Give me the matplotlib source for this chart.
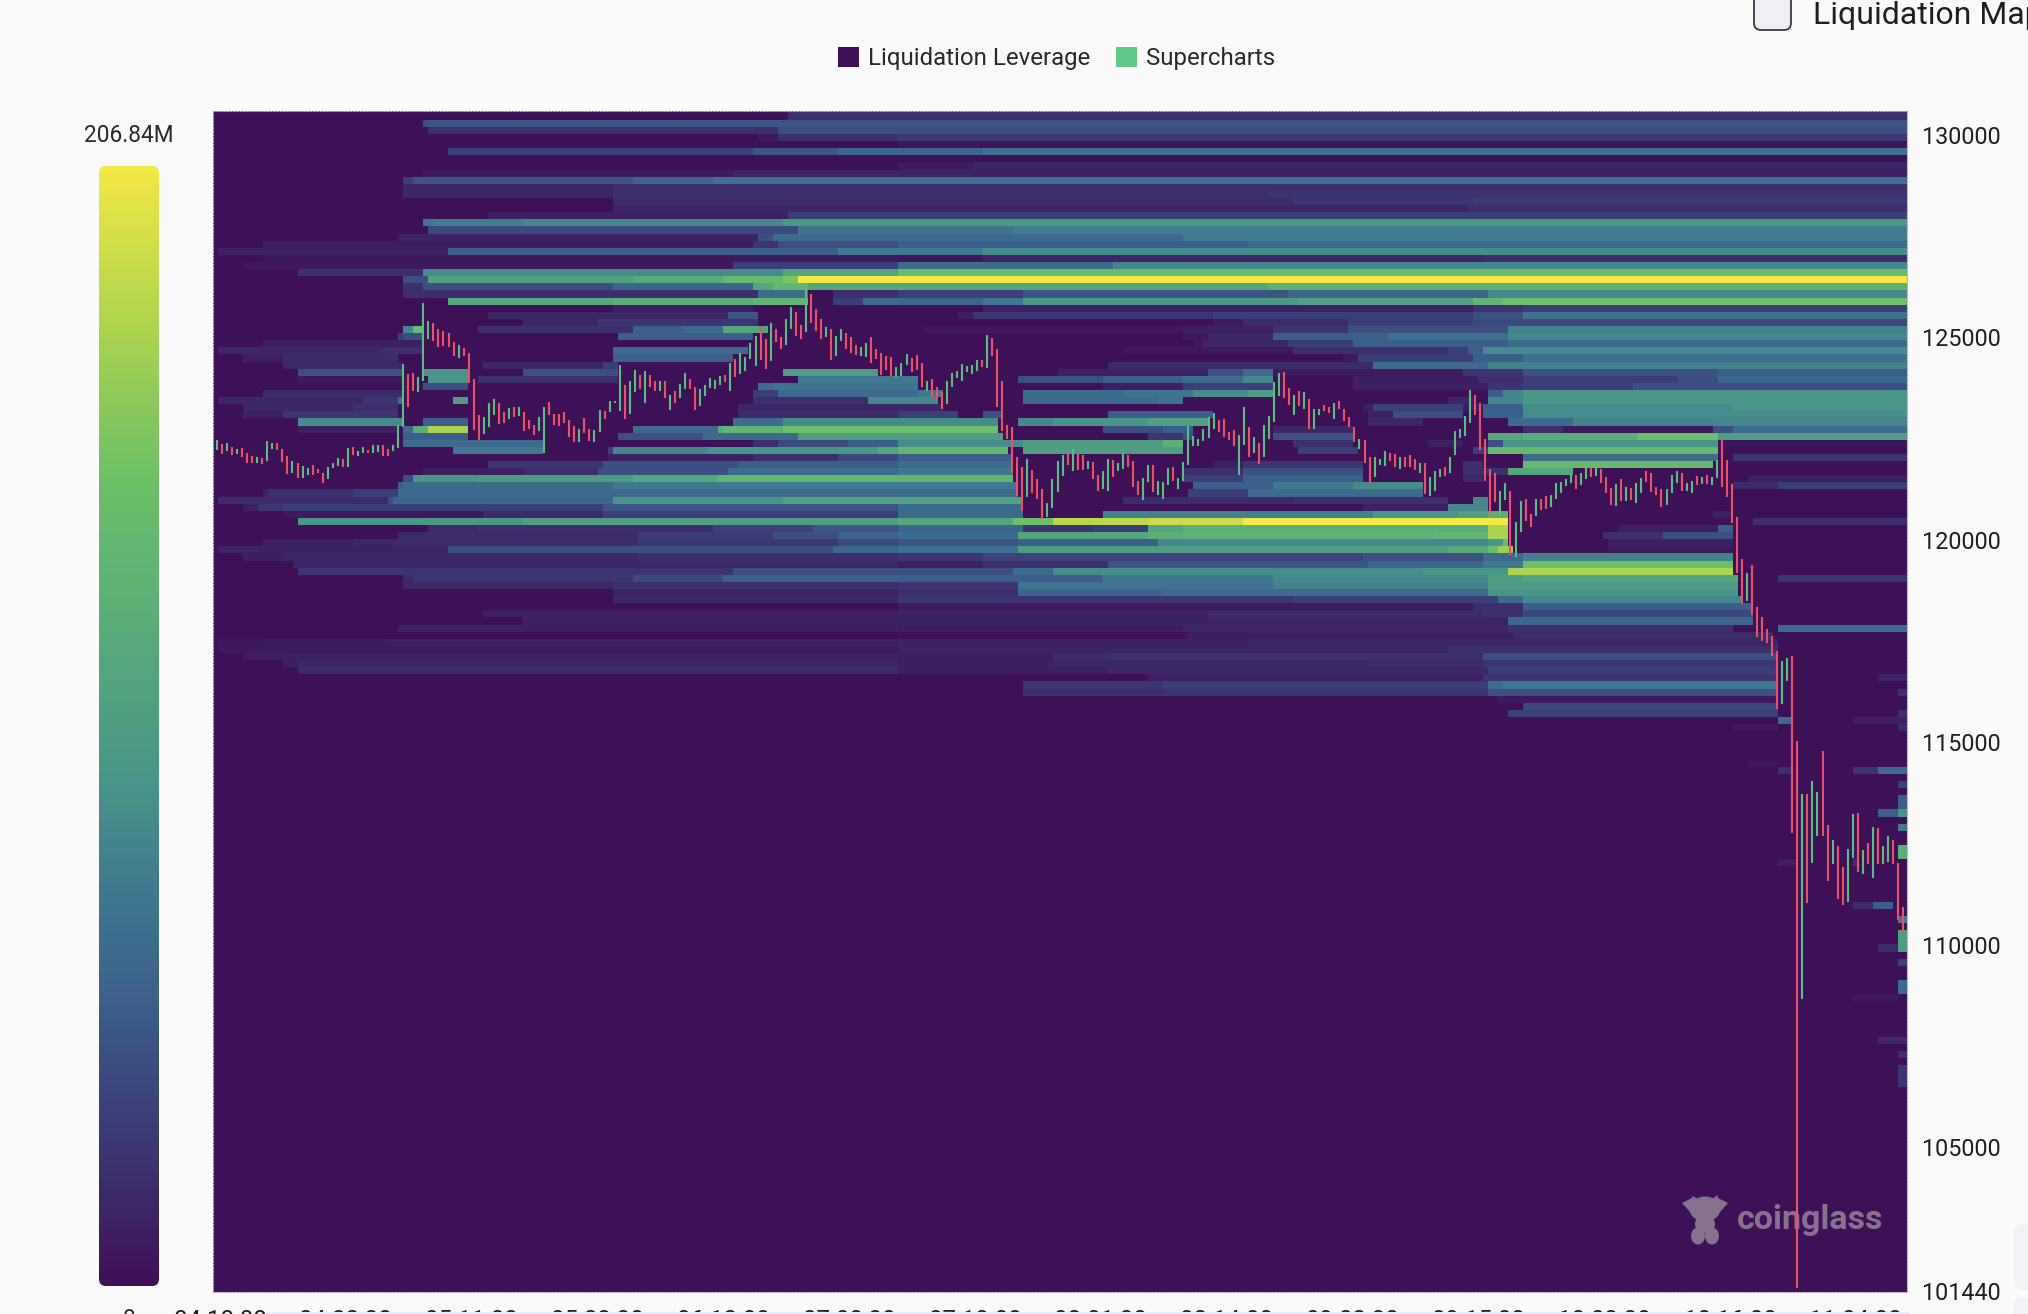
import numpy as np
import matplotlib
matplotlib.use("Agg")
import matplotlib.pyplot as plt
from matplotlib.colors import LinearSegmentedColormap
from matplotlib.patches import FancyBboxPatch, Ellipse, Polygon, Rectangle

plt.rcParams["font.family"] = ["Roboto", "DejaVu Sans"]

# axis
price_ticks = [130000, 125000, 120000, 115000, 110000, 105000, 101440]
time_labels = ["04 10:00", "04 22:30", "05 11:00", "05 23:30", "06 12:00", "07 00:30", "07 13:00",
               "08 01:30", "08 14:00", "09 02:30", "09 15:00", "10 03:30", "10 16:00", "11 04:30"]
scale_max = "206.84M"
scale_min = "0"
legend_names = ["Liquidation Leverage", "Supercharts"]

# liquidation bands, row number -> (first column, share of the scale maximum)
heat_upper = {
    0: [(115, .1)],
    1: [(41.6, .2), (43, .22)],
    2: [(43, .1), (113, .2)],
    3: [(109, .03), (113, .1), (137, .13)],
    4: [(137, .02)],
    5: [(47.4, .15), (108, .22), (125, .28), (154.4, .32)],
    7: [(137, .04), (152, .07)],
    8: [(41.6, .04), (104, .06)],
    9: [(37.6, .15), (40, .22), (84, .27), (100, .32)],
    10: [(38.5, .07), (80.4, .1)],
    11: [(38.5, .07), (80, .1), (211, .11)],
    12: [(79.5, .08), (216, .12), (252, .13)],
    13: [(80, .07), (251, .1)],
    14: [(55, .05), (115, .15)],
    15: [(41.6, .33), (44, .37), (62, .4), (114.4, .47)],
    16: [(43, .18), (117, .33), (160, .37)],
    17: [(36.7, .06), (109, .2), (112, .3), (194, .36)],
    18: [(10.3, .04), (108, .12), (113, .2), (137, .25), (206.6, .3)],
    19: [(1.4, .05), (47.4, .25), (125, .35), (154, .42)],
    20: [(10.3, .03), (137, .02), (154, .07), (254, .1)],
    21: [(6.3, .03), (103.6, .15), (137, .3), (180, .4)],
    22: [(17, .1), (41.6, .42), (114.4, .55), (137, .7)],
    23: [(37.6, .2), (43, .52), (84, .58), (102, .68), (114, .75), (117, 1.0)],
    24: [(37.6, .1), (42.5, .2), (80.4, .27), (108, .55), (112, .65), (118.8, .55), (211, .62)],
    25: [(38.5, .1), (109, .3), (118.8, 0), (124, .1), (137.4, .15), (161.5, .22), (215, .28), (254.8, .4)],
    26: [(47.4, .55), (79.5, .6), (108, .65), (118.8, 0), (124, .15), (130, .3), (137.4, .27), (154.4, .35),
         (161.5, .47), (217, .52), (251.7, .65), (258, .72)],
    27: [(80, .05), (108, 0), (154.4, .05), (251.7, .12), (262, .15)],
    28: [(55, .07), (103, .22), (109, 0), (149, .04), (152, .12), (200, .15), (252, .2), (262, .33)],
    29: [(62, .07), (77, .12), (109, 0), (200, .03), (205.7, .08), (227, .15), (252, .18)],
    30: [(37.6, .4), (40, .7), (42, 0), (53, .1), (84, .25), (94, .3), (102, .55), (111, 0), (142.3, .03),
         (194.5, .05), (212.4, .12), (227, .2), (259, .38)],
    31: [(36.7, .15), (38.5, .2), (42, 0), (81, .25), (107.7, 0), (194.5, .03), (198.6, .07), (211.5, .25),
         (235, .32), (259, .4)],
    32: [(10.3, .05), (42, 0), (195.5, .03), (198, .07), (215, .15), (228.5, .25), (259, .3)],
    33: [(1.4, .07), (34, .1), (42, 0), (79.5, .3), (107, 0), (181.6, .03), (216.4, .1), (247, .15), (251, .25),
         (254, .42)],
    34: [(6.3, .05), (14.4, .08), (37, 0), (80.4, .25), (104, 0), (226, .03), (229.4, .15), (251.7, .25), (262, .32)],
    35: [(14.4, .07), (37.6, 0), (54.5, .07), (77.8, .15), (81, 0), (179.4, .08), (232, .3), (254.8, .38)],
    36: [(17, .2), (37.6, 0), (41.6, .45), (51.4, 0), (61.7, .2), (81.4, 0), (114.4, .5), (133, 0), (168.7, .05),
         (199.4, .2), (205.7, .3), (212.4, .03), (250, .12), (262, .2), (301, .25)],
    37: [(17, .03), (37.6, 0), (43.4, .45), (51, 0), (52.8, .1), (81, 0), (117, .35), (141, 0), (160.6, .2),
         (178.5, .25), (194.5, .3), (205.7, .4), (212.4, 0), (227.6, .05), (252.6, .1), (262, .15), (293, .2),
         (301, .28)],
    38: [(42.5, .2), (51.4, 0), (109, .3), (112, .33), (141.4, 0), (178.5, .05), (194.5, .15), (212, 0),
         (227.6, .05), (255, .12), (262, .15), (284, .2)],
    39: [(10.3, .08), (37.6, 0), (107.6, .15), (113, .3), (141, .35), (146, 0), (161.5, .3), (181.6, .33),
         (195.5, .42), (206.6, .48), (211.5, 0), (255.3, .25), (258, .4), (262, .45)],
}
heat_middle = {
    40: [(1.4, .07), (30, .12), (37, .3), (37.6, 0), (47.6, .5), (51.4, 0), (108, .1), (131, .4), (145.4, 0),
         (161.5, .3), (189, .33), (194.5, 0), (247, .07), (252, 0), (255.3, .4), (262, .45)],
    41: [(6.3, .07), (28, .1), (36.7, 0), (105, .07), (146, 0), (230, .05), (232, .15), (250, .05), (254, .25),
         (262, .42), (304.5, .45)],
    42: [(6.3, .05), (14.4, .12), (37, 0), (105, .08), (137.4, .15), (149, 0), (154.4, .2), (157.5, 0), (179.4, .25),
         (200.3, 0), (231, .05), (236, .2), (250, 0), (254, .25), (262, .42)],
    43: [(17, .42), (37.6, 0), (41.6, .25), (51.4, 0), (104, .3), (114.4, .42), (157, 0), (160.6, .4), (168, .45),
         (187, .52), (199, 0), (231, .07), (242, 0), (259.3, .3), (272, .38), (300, .4)],
    44: [(16.6, .05), (37, 0), (37.6, .3), (40, .6), (43, .85), (51.4, 0), (84, .3), (101, .58), (102, .65),
         (114, .72), (157, 0), (178.5, .2), (190, .25), (195.5, 0), (212.4, .07), (227.6, 0), (262, .1), (270, .03),
         (300.5, .2), (304, .3)],
    45: [(37.6, .25), (51, 0), (81, .2), (98, .3), (117, .5), (158.5, 0), (187.4, .12), (194, .2), (196, 0),
         (212.4, .2), (227.6, 0), (255.3, .55), (262, .6), (285, .72), (301, .5)],
    46: [(38.5, .3), (66, 0), (108, .1), (113, .18), (127, .25), (137.4, .42), (161.5, .5), (190, .62), (194.5, 0),
         (216, .1), (228, 0), (243, .05), (250, 0), (255.3, .2), (258, .45), (301.2, .02)],
    47: [(47.6, .35), (66, 0), (79, .15), (80.4, .4), (99, .45), (133, .55), (137.4, .65), (159, 0), (161.5, .5),
         (194.5, 0), (217, .15), (229, 0), (252, .15), (255.3, .68), (301.2, 0)],
    48: [(79, .05), (108, .1), (125, .18), (137.4, .25), (160, 0), (262, .3), (301.2, 0), (303.5, .12)],
    49: [(55, .12), (78, .2), (104.6, .25), (137.4, .3), (160, 0), (199.9, .05), (205.5, .12), (230, 0), (250, .1),
         (254, 0), (262, .68), (300, 0)],
    50: [(41.6, .05), (61.7, .1), (77, .2), (103, .3), (137.4, .35), (160, 0), (194.5, .1), (205.5, .2), (230, 0),
         (250, .1), (259.3, .55), (272, 0)],
    51: [(37.6, .2), (40, .45), (53, .48), (84, .55), (101, .65), (160, 0), (194.5, .15), (205.5, .25), (230, 0),
         (250, .08), (254, 0), (307.2, .05)],
    52: [(36.7, .25), (38.5, .3), (80.4, .35), (161, 0), (196, .25), (211.5, .35), (227.6, .42), (242, 0),
         (304.5, .08), (313.3, .15)],
    53: [(10.3, .05), (11, .1), (28, .15), (36.7, .3), (161, 0), (195.4, .15), (206.6, .3), (242, 0)],
    54: [(1.4, .08), (35, .2), (36, .28), (79.5, .45), (114, .52), (161.5, 0), (181.6, .08), (216.4, .1), (247, 0),
         (252, .4), (255, 0)],
    55: [(6.3, .05), (9, .12), (14.4, .15), (77.8, .22), (137.4, .3), (162, 0), (229.8, .05), (247, .4), (255, 0)],
    56: [(14.4, .03), (54.5, .08), (77.8, .15), (137.4, .3), (162, 0), (178.5, .38), (232, .45), (249, .5),
         (254.8, .6), (259.3, 0), (300.5, .05), (304, 0)],
    57: [(16.6, .45), (41.6, .47), (61.7, .5), (137.4, .55), (160.2, .72), (168.2, .88), (187.4, .92), (205.7, 1.0),
         (259.3, 0), (307.6, .1)],
    58: [(43.4, .08), (52.8, .1), (100, .16), (120, .22), (137.4, .28), (161.5, .12), (176.2, .15), (187.4, .55),
         (194.5, .6), (254.8, .85), (259.3, 0), (281.3, .05), (301, .25), (304.2, 0)],
    59: [(36.7, .08), (85, .14), (112, .2), (125, .26), (137.4, .3), (161.3, .55), (187.4, .6), (194.5, .62),
         (243.6, .65), (255, .85), (259, 0), (278.3, .1), (290, .2), (304.2, 0)],
    60: [(10.3, .05), (28, .07), (36, .08), (85, .13), (125, .18), (137.4, .22), (161.3, .25), (189.2, .4), (255, .45),
         (258, .7), (259.3, 0), (279.3, .05), (304, 0)],
    61: [(1.4, .06), (47.4, .2), (124, .28), (137.4, .32), (161.3, .5), (247, .58), (255, .7), (257, .82),
         (259.7, 0), (279.3, .03), (304, 0)],
    62: [(6.3, .05), (14.4, .07), (85, .1), (137.4, .12), (153.5, .17), (229.8, .2), (254.4, .3), (262, .38), (304.5, 0)],
    63: [(16, .07), (137.4, .05), (154, .1), (179.4, .22), (231, .28), (253.5, .35), (262, .72), (304.5, 0)],
    64: [(17, .12), (103.6, .2), (160.2, .3), (168.2, .42), (242, .45), (258.8, .85), (304.5, 0)],
    65: [(37.6, .08), (40, .12), (83.6, .18), (102, .25), (178.5, .35), (212.4, .4), (254.8, .5), (262, .55),
         (305.2, 0), (312.6, .12)],
    66: [(37.6, .07), (80.4, .1), (137.4, .12), (161.3, .33), (212.4, .38), (254.8, .48), (305.2, 0)],
    67: [(80, .06), (137.4, .1), (161.3, .28), (189.6, .3), (254.8, .45), (305.2, 0)],
    68: [(79.5, .07), (137.4, .12), (216.4, .15), (257, .3), (262, .4), (306, 0)],
    69: [(137.4, .03), (251.7, .1), (262, .25), (308, 0)],
}
heat_lower = {
    70: [(54.5, .05), (137.4, .06), (199.4, .08), (254, .1), (262, .18), (308, 0)],
    71: [(61.7, .06), (259, .28), (308.2, 0)],
    72: [(36.7, .05), (137.4, .04), (194.5, .07), (259, .1), (304.5, 0), (312.6, .3)],
    73: [(137.4, .01), (195.4, .05), (260, .08), (311.6, 0)],
    74: [(1.4, .03), (10.3, .04), (34.9, .05), (137.4, .06), (206.6, .07), (312.6, 0)],
    75: [(1.4, .03), (137.4, .06), (247, .1), (312.6, 0)],
    76: [(6.3, .04), (14.4, .05), (168.2, .08), (179.4, .1), (254, .2), (313, 0)],
    77: [(14.4, .05), (17, .07), (137.4, .05), (168.2, .07), (231, .08), (254, .12), (313, 0)],
    78: [(17, .08), (137.4, .05), (179.4, .07), (255, .15), (313, 0)],
    79: [(187.4, .05), (254.4, .12), (313, 0), (332.7, .06)],
    80: [(161.5, .12), (189.6, .15), (255, .3), (258, .35), (313, 0)],
    81: [(161.5, .1), (189.6, .12), (255, .2), (313, 0), (336.7, .1)],
    82: [(257, .03), (313, 0)],
    83: [(262, .18), (313, 0)],
    84: [(259.3, .15), (313, 0), (336.7, .1)],
    85: [(312.7, .3), (316, 0), (327.7, .05)],
    86: [(304.5, .03), (312.6, 0), (336.7, .08)],
    91: [(307.4, .03), (312.7, 0)],
    92: [(312.7, .1), (315.7, 0), (327.7, .12), (332.7, .3)],
    94: [(336.7, .15)],
    96: [(336.7, .25)],
    97: [(336.7, .25)],
    98: [(332.7, .25), (336.7, .45)],
    100: [(336.7, .35)],
    103: [(336.7, .6)],
    104: [(336.7, .6)],
    105: [(312.7, .05), (317, 0), (327.7, .1), (329.4, 0)],
    111: [(327.7, .08), (332.4, .25), (336.4, 0)],
    113: [(336.7, .35)],
    115: [(336.7, .5)],
    116: [(336.7, .5)],
    117: [(332.7, .08), (336.7, .5)],
    119: [(336.7, .15)],
    122: [(336.7, .3)],
    123: [(336.7, .3)],
    124: [(327.7, .03), (336.7, 0)],
    130: [(332.7, .08)],
    132: [(336.7, .1)],
    134: [(336.7, .12)],
    135: [(336.7, .12)],
    136: [(336.7, .12)],
}

# 30 minute candles, high / low / colour
high_a = [122466, 122367, 122384, 122301, 122252, 122269, 122153, 122071, 122038, 122022,
          122450, 122384, 122384, 122252, 122071, 121939, 121890, 121824, 121775, 121840,
          121758, 121659, 121808, 121890, 122022, 122005, 122269, 122285, 122203, 122285,
          122219, 122351, 122334, 122334, 122252, 122351, 122828, 124343, 124096, 124129,
          124014, 125842, 125397, 125348, 125200, 125167, 125117, 124895, 124813, 124730,
          124607, 123965, 123075, 123042, 123388, 123471, 123388, 123158, 123256, 123273,
          123273, 123158, 122960, 122837, 123042, 123273, 123405, 123108, 123108, 123158,
          122960, 122812, 122730, 123001, 122730, 122713, 123207, 123191, 123421, 123421,
          124310, 123816, 123932, 124195, 124063, 124162, 124063, 123915, 123915, 123932,
          123569, 123685, 123849, 124113, 123965, 123767, 123718, 123816, 123998, 123948,
          124047]
low_a = [122219, 122120, 122186, 122104, 122120, 122055, 121890, 121906, 121906, 121873,
         121939, 122236, 122219, 121923, 121626, 121659, 121519, 121528, 121593, 121610,
         121643, 121412, 121511, 121775, 121824, 121808, 121791, 122104, 122071, 122137,
         122137, 122137, 122170, 122071, 122071, 122186, 122269, 122779, 123289, 123685,
         123652, 123932, 124953, 124920, 124771, 124788, 124755, 124541, 124491, 124541,
         123882, 122713, 122466, 122614, 122779, 123092, 122861, 122894, 122993, 123042,
         123059, 122680, 122746, 122581, 122697, 122153, 123092, 122828, 122812, 122894,
         122548, 122425, 122417, 122631, 122450, 122417, 122664, 122977, 123158, 123372,
         123191, 122993, 123108, 123652, 123734, 123372, 123783, 123685, 123668, 123504,
         123207, 123388, 123504, 123734, 123734, 123207, 123306, 123553, 123751, 123718,
         123816]
colour_a = "GRGRGRRRGR" "GGRRRGRGGR" "RRGGGRGRGG" "RGGRRGGGRR" "GGGRRRRRGR" "RRRGGGRRGR" "GRRRGGRRRR" \
           "RRGRRGGRGG" "GRGGRGRRGR" "GRGGRRGGGG" "G"

high_b = [124080, 124376, 124475, 124623, 124524, 124870, 125035, 125249, 124969, 125348,
          125200, 125018, 125447, 125759, 125628, 125298, 126187, 126072, 125710, 125463,
          125265, 125216, 125035, 125216, 125101, 125018, 124804, 124771, 124854, 125018,
          124722, 124623, 124541, 124508, 124261, 124360, 124590, 124491, 124557, 124376,
          123915, 123981, 123783, 123652, 123915, 124113, 124162, 124343, 124294, 124310,
          124442, 124442, 125068, 124985, 124722, 123915, 122828, 122779, 122055, 121791,
          122005, 121725, 121511, 121248, 120918, 121495, 121956, 122104, 122120, 122236,
          122153, 122104, 121956, 121923, 121593, 121709, 122005, 121972, 121890, 122153,
          122104, 121956, 121445, 121528, 121840, 121840, 121462, 121429, 121775, 121808,
          121528, 121923, 122812, 122565, 122499, 122746, 123042, 123125, 122960, 122977,
          122664]
low_b = [123899, 123685, 124030, 124096, 124179, 124459, 124294, 124442, 124228, 124426,
         124887, 124722, 124804, 125216, 125035, 124953, 125134, 125348, 125167, 124969,
         125018, 124442, 124541, 124903, 124722, 124623, 124574, 124541, 124524, 124360,
         124459, 124080, 124195, 124047, 124030, 124047, 124327, 124146, 124195, 123783,
         123685, 123536, 123487, 123240, 123355, 123783, 123998, 123932, 124146, 124096,
         124179, 124261, 124245, 124541, 123289, 122680, 122483, 121643, 121083, 120704,
         121067, 121149, 121001, 120507, 120556, 120787, 121182, 121577, 121840, 121692,
         121725, 121725, 121742, 121511, 121198, 121248, 121198, 121544, 121692, 121758,
         121791, 121314, 121116, 120984, 121429, 121182, 121116, 121001, 121347, 121445,
         121264, 121462, 121857, 122318, 122318, 122433, 122516, 122746, 122664, 122548,
         122466]
colour_b = "RGRGGGGRRG" "RRGGRRGRRR" "GRGGRRRGGR" "RRRRGGGRRR" "GRRRGGGGGG" "GRGRRRRRRR" "GRRRGGGGRG" \
           "RRGRRGGRGG" "RRRGGRGGGR" "GGGGGGGGRR" "R"

high_c = [122714, 122599, 123274, 122780, 122549, 122385, 122846, 123060, 123900, 124130,
          124147, 123751, 123570, 123669, 123653, 123488, 123225, 123241, 123340, 123274,
          123389, 123439, 123241, 123043, 122780, 122484, 122467, 122039, 122055, 122006,
          122187, 122154, 122121, 122055, 122055, 122105, 121990, 121907, 121891, 121545,
          121693, 121759, 121808, 122039, 122698, 122747, 123060, 123702, 123570, 123389,
          122500, 121743, 121644, 121199, 121397, 121216, 120442, 120969, 121018, 120639,
          121018, 121018, 121084, 121117, 121413, 121430, 121512, 121627, 121594, 121644,
          121775, 121792, 121792, 121743, 121561, 121282, 121380, 121512, 121314, 121282,
          121413, 121529, 121693, 121644, 121314, 121265, 121249, 121594, 121693, 121660,
          121397, 121463, 121578, 121561, 121611, 121545, 121973, 122484, 121973, 121380]
low_c = [122319, 121594, 122352, 122039, 122138, 121874, 122055, 122484, 122912, 123554,
         123504, 123340, 123093, 123307, 123225, 122747, 122731, 123093, 123192, 123126,
         122978, 123225, 122945, 122780, 122418, 122253, 121891, 121413, 121545, 121841,
         121825, 121957, 121792, 121759, 121808, 121792, 121726, 121644, 121133, 121084,
         121216, 121545, 121578, 121660, 122088, 122517, 122566, 122879, 123093, 122220,
         121446, 120656, 120936, 120590, 120985, 119619, 119569, 120195, 120475, 120310,
         120590, 120738, 120771, 120820, 121002, 121166, 121331, 121397, 121265, 121364,
         121512, 121545, 121578, 121413, 121150, 120853, 120837, 120952, 120952, 120985,
         120919, 121150, 121430, 121183, 121117, 120804, 120870, 121150, 121397, 121216,
         121216, 121150, 121347, 121380, 121380, 121347, 121529, 121298, 121067, 120409]
colour_c = "RGGRGRGGGG" "RRGRGRGGRR" "GRRRRGRRGG" "GRRGRRRGRG" "GGRGGGGGRR" "RRRGGRGGRR" "GRRGGGGGRG" \
           "GRGRRRGRGR" "GGRRRRGGGR" "GGRGRGGRRR"

high_d = [120563, 119539, 119170, 119375, 118351, 118105, 117798, 117634, 117265, 117020, 117081,
          117122, 115041, 113724, 113724, 114043, 113767, 114786, 112959, 112598, 112450, 111919,
          112365, 113236, 113257, 112343, 112513, 112896, 112874, 112450, 112683, 112598, 112025, 110920]
low_d = [119170, 118422, 118494, 118146, 117593, 117511, 117450, 117142, 115832, 115934, 116508,
         112768, 101511, 108669, 111027, 112025, 112683, 112683, 111579, 112004, 111133, 110984,
         111048, 112131, 111791, 111749, 112004, 111643, 111982, 111982, 112046, 111982, 110602, 110326]
colour_d = "RRGRRRRRRGG" "RRGRGGRRGRRGGRGRGRGGRRR"

candle_high = np.array(high_a + high_b + high_c + high_d)
candle_low = np.array(low_a + low_b + low_c + low_d)
candle_colour = colour_a + colour_b + colour_c + colour_d

# heat map grid
n_cols = 339
n_rows = 166
row_step = 175.6
first_edge = 130551
y_top = 130593
y_bottom = 101422

Z = np.zeros((n_rows, n_cols))
for table in (heat_upper, heat_middle, heat_lower):
    for row, segments in table.items():
        for k, (start, value) in enumerate(segments):
            stop = segments[k + 1][0] if k + 1 < len(segments) else n_cols
            Z[row, int(round(start)):int(round(stop))] = value

price_edges = first_edge - row_step * np.arange(n_rows + 1)
price_edges[0] = y_top
col_edges = np.arange(n_cols + 1)

cmap = LinearSegmentedColormap.from_list("liq", [
    (0, "#3e1157"), (.08, "#3d2a68"), (.15, "#3b3f78"), (.25, "#3c5f8a"), (.35, "#40788f"), (.45, "#4a958a"),
    (.55, "#55a57d"), (.65, "#62b572"), (.72, "#6cbf68"), (.85, "#a9d350"), (1, "#f3e846")])

BG = "#fafafa"
W, H = 2028, 1314
fig = plt.figure(figsize=(W / 100, H / 100), dpi=100, facecolor=BG)

# pixel overlay for the page furniture
over = fig.add_axes([0, 0, 1, 1], zorder=3)
over.set_xlim(0, W)
over.set_ylim(H, 0)
over.axis("off")

ax = fig.add_axes([213 / W, 1 - 1292 / H, 1693.5 / W, 1181 / H], zorder=2)
ax.pcolormesh(col_edges, price_edges, Z, cmap=cmap, vmin=0, vmax=1, shading="flat", rasterized=True)
ax.set_xlim(0, 338.7)
ax.set_ylim(y_bottom, y_top)

# watermark, under the candles
mark = "#86718f"
tr = over.transData
ax.add_patch(Ellipse((1705, 1209), 31, 25, color=mark, transform=tr, zorder=3, lw=0))
ax.add_patch(Polygon([(1682, 1203), (1692, 1198), (1692, 1196), (1698, 1199), (1712, 1199), (1718, 1195),
                      (1718, 1198), (1728, 1203), (1720, 1212), (1690, 1212)],
                     color=mark, transform=tr, zorder=3, lw=0))
ax.add_patch(Ellipse((1705, 1224), 20, 18, color=mark, transform=tr, zorder=3, lw=0))
ax.add_patch(Ellipse((1698, 1236), 14, 17, color=mark, transform=tr, zorder=3, lw=0))
ax.add_patch(Ellipse((1712, 1236), 14, 17, color=mark, transform=tr, zorder=3, lw=0))
ax.text(1737, 1220, "coinglass", color=mark, fontsize=24.5, fontweight="bold", va="center", ha="left",
        transform=tr, zorder=3)

# candles
candle_x = 0.8 + 1.0066 * np.arange(len(candle_high))
is_up = np.array([c == "G" for c in candle_colour])
ax.vlines(candle_x[is_up], candle_low[is_up], candle_high[is_up], color="#58bd84", lw=1.5, zorder=4)
ax.vlines(candle_x[~is_up], candle_low[~is_up], candle_high[~is_up], color="#e9506a", lw=1.5, zorder=4)

for s in ax.spines.values():
    s.set_color("#b8a3c4")
    s.set_linewidth(0.8)
    s.set_linestyle((0, (1.5, 1.5)))

ax.yaxis.tick_right()
ax.set_yticks(price_ticks, [str(p) for p in price_ticks])
ax.tick_params(axis="y", length=0, pad=11.5, labelsize=16.8, labelcolor="#1f1f1f")
ax.set_xticks(candle_x[::25] + 0.6, time_labels)
ax.tick_params(axis="x", length=0, pad=12.3, labelsize=17.3, labelcolor="#1f1f1f")
for lab in ax.get_xticklabels():
    lab.set_va("top")

# colour scale
over.add_patch(Rectangle((265, 1312), 1645, 2, color="#e8ebf8", lw=0, zorder=0))
cax = fig.add_axes([99 / W, 1 - 1286 / H, 60 / W, 1120 / H], zorder=2)
im = cax.imshow(np.linspace(1, 0, 256)[:, None], aspect="auto", cmap=cmap, vmin=0, vmax=1)
cax.axis("off")
clip = FancyBboxPatch((99, 166), 60, 1120, boxstyle="round,pad=0,rounding_size=7", transform=over.transData)
im.set_clip_path(clip)
over.text(129, 135, scale_max, ha="center", va="center", fontsize=16.3, color="#2a2a2a")
over.text(129, 1308, scale_min, ha="center", va="top", fontsize=16.3, color="#2a2a2a")

# legend
over.add_patch(Rectangle((838, 47), 21, 20, color="#3e1157", lw=0))
over.text(868, 58, legend_names[0], va="center", ha="left", fontsize=17.3, color="#2a2a2a")
over.add_patch(Rectangle((1116, 47), 21, 20, color="#5fcb8a", lw=0))
over.text(1146, 58, legend_names[1], va="center", ha="left", fontsize=17.3, color="#2a2a2a")

# cut-off page bits
over.add_patch(FancyBboxPatch((1754, -12), 37, 42, boxstyle="round,pad=0,rounding_size=7",
                              fc="#eef0f6", ec="#3a3a3a", lw=1.3))
over.text(1813, 15, "Liquidation Map", va="center", ha="left", fontsize=23, color="#1f1f1f")
over.add_patch(FancyBboxPatch((2014, 1224), 30, 66, boxstyle="round,pad=0,rounding_size=8", fc="#f2f3f7", ec="none"))
over.add_patch(FancyBboxPatch((2014, 1298), 30, 40, boxstyle="round,pad=0,rounding_size=8", fc="#f2f3f7", ec="none"))

fig.savefig("out.png", dpi=100, facecolor=BG)
